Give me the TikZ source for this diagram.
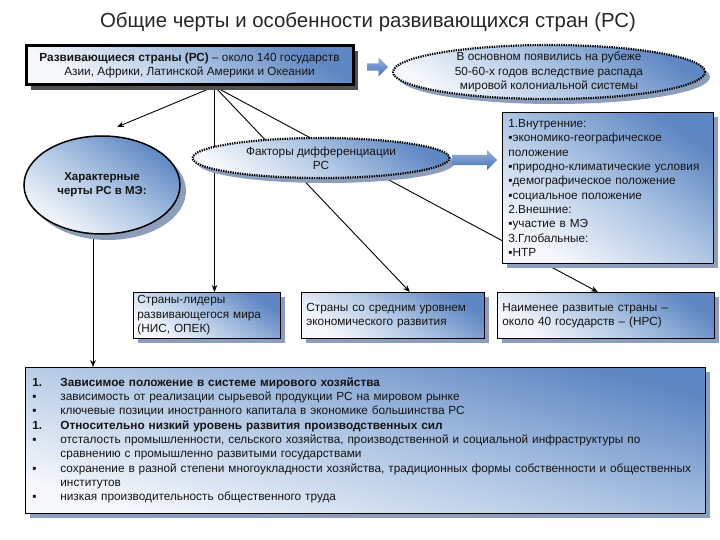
\documentclass[tikz,border=0pt]{standalone}
\usepackage{fontspec}
\setmainfont{Liberation Sans}
\usetikzlibrary{shapes.geometric,shapes.arrows,shadows,arrows.meta,backgrounds,calc}
\definecolor{bA}{RGB}{95,135,195}
\definecolor{bM}{RGB}{175,198,228}
\definecolor{bL}{RGB}{246,248,252}
\definecolor{shd}{RGB}{140,158,188}
\definecolor{shdk}{RGB}{80,80,80}
\definecolor{arrb}{RGB}{70,115,185}
\definecolor{txtc}{RGB}{20,20,20}
\begin{document}
\begin{tikzpicture}[x=1pt,y=-1pt,
 every node/.style={font=\fontsize{11.8}{14.3}\selectfont, text=txtc},
 grad/.style={top color=bA, bottom color=bL, middle color=bM, shading angle=-35},
 shad/.style={drop shadow={shadow xshift=5pt,shadow yshift=-5pt,fill=shd,opacity=1}},
 sbox/.style={rectangle, draw=black, line width=0.8pt, grad, shad, inner sep=0pt, anchor=north west},
 dotell/.style={ellipse, draw=black, line width=2.2pt, dash pattern=on 1.3pt off 1.1pt, grad, shad, inner sep=0pt},
 conn/.style={draw=black, line width=0.9pt, -{Stealth[length=7pt,width=5.5pt]}},
 barrow/.style={single arrow, draw=none, top color=arrb!55!white, bottom color=arrb, shading angle=0, inner xsep=0pt, anchor=tail},
]
\useasboundingbox (0,0) rectangle (720,540);

\node[font=\fontsize{20.4}{24}\selectfont, text=black!85] (title) at (368,22) {Общие черты и особенности развивающихся стран (РС)};

\node[sbox, line width=3pt, minimum width=327pt, minimum height=39pt, align=center,
  drop shadow={shadow xshift=5pt,shadow yshift=-5pt,fill=shdk,opacity=1}] (topbox) at (24.5,44.5)
  {\textbf{Развивающиеся страны (РС)} – около 140 государств\\Азии, Африки, Латинской Америки и Океании};

\node[barrow, minimum height=21pt, inner ysep=3.5pt, single arrow head extend=6pt] (ar1) at (367,67) {};

\node[dotell, minimum width=312pt, minimum height=54pt] (ell1) at (549,72) {};
\node[align=center] (ell1t) at (ell1.center) {В основном появились на рубеже\\50-60-х годов вследствие распада\\мировой колониальной системы};

\node[ellipse, draw=black, line width=1.5pt, grad,
  drop shadow={shadow xshift=6pt,shadow yshift=-6pt,fill=shd,opacity=1},
  minimum width=156pt, minimum height=98pt, inner sep=0pt, align=center,
  font=\bfseries\fontsize{11.5}{14.3}\selectfont] (circ) at (102,185) {Характерные\\черты РС в МЭ:};

\node[dotell, minimum width=257pt, minimum height=40pt] (fac) at (321,158) {};
\node[align=center] (fact) at (fac.center) {Факторы дифференциации\\РС};

\node[barrow, minimum height=45pt, inner ysep=5pt, single arrow head extend=5pt] (ar2) at (452,160) {};

\node[sbox, minimum width=211pt, minimum height=151pt, text width=199pt, inner xsep=6pt, align=left] (list) at (502,112)
 {1.Внутренние:\\
  ▪экономико-географическое\\
  положение\\
  ▪природно-климатические условия\\
  ▪демографическое положение\\
  ▪социальное положение\\
  2.Внешние:\\
  ▪участие в МЭ\\
  3.Глобальные:\\
  ▪НТР};

\node[sbox, minimum width=147pt, minimum height=46pt, text width=139pt, inner xsep=4pt, align=left] (lbox) at (133,292)
 {Страны-лидеры\\развивающегося мира\\(НИС, ОПЕК)};
\node[sbox, minimum width=181pt, minimum height=46pt, text width=173pt, inner xsep=5pt, align=left] (mbox) at (301,292)
 {Страны со средним уровнем\\экономического развития};
\node[sbox, minimum width=215pt, minimum height=46pt, text width=207pt, inner xsep=5pt, align=left] (rbox) at (497,292)
 {Наименее развитые страны –\\около 40 государств – (НРС)};

\node[sbox, shading angle=-15, minimum width=680pt, minimum height=146pt, text width=666pt, inner xsep=7pt, align=left] (bbox) at (25,367)
 {\makebox[28pt][l]{\textbf{1.}}\textbf{Зависимое положение в системе мирового хозяйства}\\
  \makebox[28pt][l]{▪}зависимость от реализации сырьевой продукции РС на мировом рынке\\
  \makebox[28pt][l]{▪}ключевые позиции иностранного капитала в экономике большинства РС\\
  \makebox[28pt][l]{\textbf{1.}}\textbf{Относительно низкий уровень развития производственных сил}\\
  \makebox[28pt][l]{▪}отсталость промышленности, сельского хозяйства, производственной и социальной инфраструктуры по\\
  \hspace*{28pt}сравнению с промышленно развитыми государствами\\
  \makebox[28pt][l]{▪}сохранение в разной степени многоукладности хозяйства, традиционных формы собственности и общественных\\
  \hspace*{28pt}институтов\\
  \makebox[28pt][l]{▪}низкая производительность общественного труда};

\coordinate (hub) at ($(topbox.south)+(25,0)$);
\coordinate (ctip) at (117,127);
\begin{pgfonlayer}{background}
\draw[conn] (hub) -- (ctip);
\draw[conn] (hub) -- (hub |- lbox.north);
\draw[conn] (hub) -- ([xshift=17pt]mbox.north);
\draw[conn] (hub) -- ([xshift=-8pt]rbox.north);
\draw[conn] ([xshift=-9pt]circ.south) -- ([xshift=-9pt]circ.south |- bbox.north);
\end{pgfonlayer}
\end{tikzpicture}
\end{document}
